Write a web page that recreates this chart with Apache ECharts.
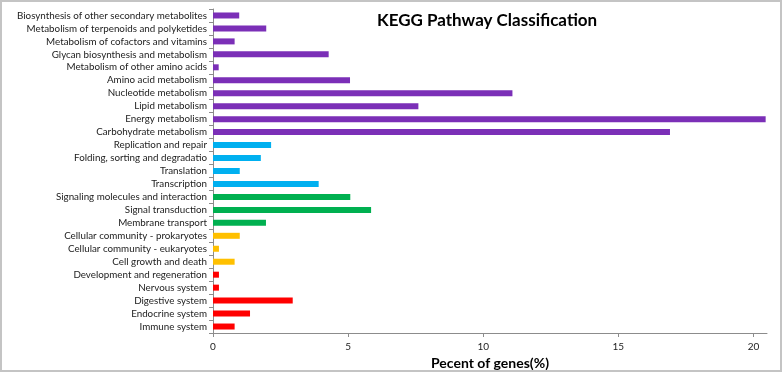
<!DOCTYPE html>
<html>
<head>
<meta charset="utf-8">
<script src="https://cdn.jsdelivr.net/npm/echarts@6/dist/echarts.min.js"></script>
<style>
  html, body { margin: 0; padding: 0; background: #fff; }
  #main { width: 782px; height: 372px; box-sizing: border-box; border: 2px solid #c4c4c4; }
</style>
</head>
<body>
<div id="main"></div>
<script>
// categories, top to bottom as in the figure
const categories = [
  'Biosynthesis of other secondary metabolites',
  'Metabolism of terpenoids and polyketides',
  'Metabolism of cofactors and vitamins',
  'Glycan biosynthesis and metabolism',
  'Metabolism of other amino acids',
  'Amino acid metabolism',
  'Nucleotide metabolism',
  'Lipid metabolism',
  'Energy metabolism',
  'Carbohydrate metabolism',
  'Replication and repair',
  'Folding, sorting and degradatio',
  'Translation',
  'Transcription',
  'Signaling molecules and interaction',
  'Signal transduction',
  'Membrane transport',
  'Cellular community - prokaryotes',
  'Cellular community - eukaryotes',
  'Cell growth and death',
  'Development and regeneration',
  'Nervous system',
  'Digestive system',
  'Endocrine system',
  'Immune system'
];

const percents = [
  0.97, 1.97, 0.8, 4.28, 0.21, 5.07, 11.08, 7.6, 20.45, 16.91,
  2.15, 1.77, 0.99, 3.91,
  5.08, 5.85, 1.96,
  0.99, 0.22, 0.8,
  0.22, 0.22, 2.95, 1.37, 0.8
];

// KEGG level-1 group of each category
const groups = [
  'M', 'M', 'M', 'M', 'M', 'M', 'M', 'M', 'M', 'M',
  'G', 'G', 'G', 'G',
  'E', 'E', 'E',
  'C', 'C', 'C',
  'O', 'O', 'O', 'O', 'O'
];

const groupColors = {
  M: '#7B2FB7',
  G: '#00B0F0',
  E: '#00B050',
  C: '#FFC000',
  O: '#FF0000'
};

const xTicks = [0, 5, 10, 15, 20];

const chart = echarts.init(document.getElementById('main'), null, { renderer: 'canvas' });

const font = 'Lato, "Open Sans", sans-serif';

const option = {
  animation: false,
  backgroundColor: '#fff',
  title: {
    text: 'KEGG Pathway Classification',
    left: 370,
    top: 5,
    textStyle: { fontFamily: font, fontSize: 17, fontWeight: 'bold', color: '#000' }
  },
  grid: { left: 211, right: 13, top: 7, bottom: 37, containLabel: false, outerBoundsMode: 'none' },
  xAxis: {
    type: 'value',
    min: 0,
    max: 20.5,
    interval: 5,
    name: 'Pecent of genes(%)',
    nameLocation: 'middle',
    nameGap: 21,
    nameTextStyle: { fontFamily: font, fontSize: 14, fontWeight: 'bold', color: '#000' },
    axisLine: { show: true, lineStyle: { color: '#8c8c8c', width: 1 } },
    axisTick: { show: true, length: 4, lineStyle: { color: '#8c8c8c' } },
    axisLabel: {
      showMaxLabel: false,
      margin: 9,
      fontFamily: font,
      fontSize: 10,
      color: '#222',
      formatter: v => (xTicks.indexOf(v) >= 0 ? String(v) : '')
    },
    splitLine: { show: false }
  },
  yAxis: {
    type: 'category',
    inverse: true,
    data: categories,
    axisLine: { show: true, lineStyle: { color: '#8c8c8c', width: 1 } },
    axisTick: { show: true, length: 4, alignWithLabel: false, lineStyle: { color: '#8c8c8c' } },
    axisLabel: { interval: 0, margin: 6, fontFamily: font, fontSize: 9.8, color: '#222' }
  },
  series: [{
    type: 'bar',
    barWidth: 6,
    data: percents.map((v, i) => ({
      value: v,
      itemStyle: { color: groupColors[groups[i]] }
    }))
  }]
};

chart.setOption(option);
</script>
</body>
</html>
